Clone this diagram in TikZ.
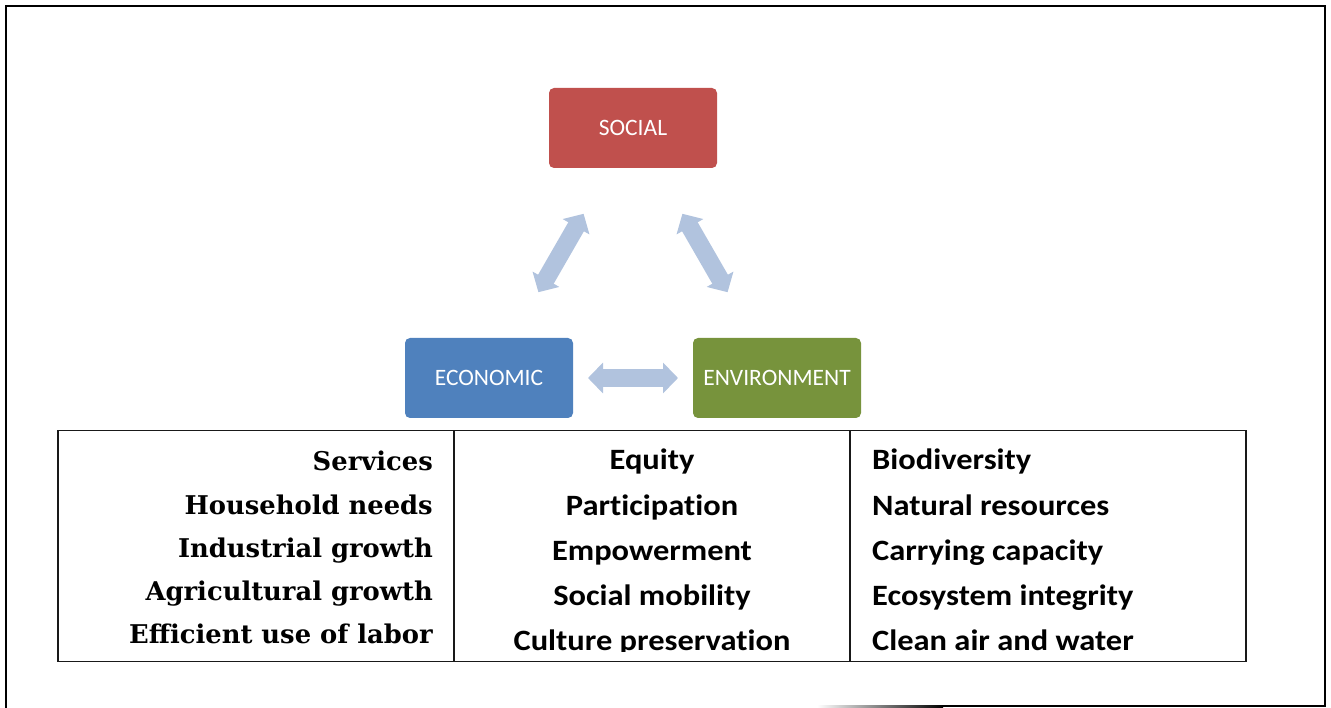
\documentclass[tikz,border=0pt]{standalone}
\usepackage{fontspec}
\setmainfont{Carlito}[Ligatures=NoCommon]
\newfontfamily\tablefont{Carlito}[FakeStretch=1.1, Ligatures=NoCommon]
\newfontfamily\serifbold{DejaVu Serif}
\usetikzlibrary{arrows.meta}
\definecolor{socred}{RGB}{192,80,77}
\definecolor{ecoblue}{RGB}{79,129,189}
\definecolor{envgreen}{RGB}{119,147,60}
\definecolor{arrowblue}{RGB}{177,195,222}
\definecolor{tablegray}{RGB}{25,25,25}
\tikzset{
  pillar/.style={rounded corners=5pt, minimum width=168pt, minimum height=80pt, inner sep=0pt,
    text=white, font=\fontsize{23.5}{28}\selectfont},
  dblarrow/.style={draw=arrowblue, line width=18pt, shorten <=99pt, shorten >=99pt,
    {Triangle[width=30pt,length=15pt]}-{Triangle[width=30pt,length=15pt]}},
  ecotext/.style={anchor=base east, inner sep=0pt, font=\serifbold\bfseries\fontsize{25.8}{30}\selectfont},
  soctext/.style={anchor=base, inner sep=0pt, font=\tablefont\bfseries\fontsize{29.5}{34}\selectfont},
  envtext/.style={anchor=base west, inner sep=0pt, font=\tablefont\bfseries\fontsize{29.5}{34}\selectfont},
  frame/.style={line width=2pt, black},
  tableline/.style={line width=1.9pt, tablegray}
}
\begin{document}
\begin{tikzpicture}[x=1pt,y=-1pt]
\useasboundingbox (0,0) rectangle (1331,708);
% outer frame with page curl
\draw[frame] (5.5,708) -- (5.5,6) -- (1325,6) -- (1325,706) -- (943,706);
\shade[left color=white, right color=black] (817,705) rectangle (943,707);
% pillars
\node[pillar, fill=socred] (soc) at (633,128) {SOCIAL};
\node[pillar, fill=ecoblue] (eco) at (489,378) {ECONOMIC};
\node[pillar, fill=envgreen] (env) at (777,378) {ENVIRONMENT};
% double arrows
\draw[dblarrow] (soc.center) -- (eco.center);
\draw[dblarrow] (soc.center) -- (env.center);
\draw[dblarrow] (eco.center) -- (env.center);
% table
\draw[tableline] (58,430.5) rectangle (1246,661.5);
\draw[tableline] (454,430.5) -- (454,661.5);
\draw[tableline] (850,430.5) -- (850,661.5);
% economic column
\node[ecotext] (e1) at (433,471) {Services};
\node[ecotext] (e2) at (433,514) {Household needs};
\node[ecotext] (e3) at (433,557) {Industrial growth};
\node[ecotext] (e4) at (433,600) {Agricultural growth};
\node[ecotext] (e5) at (433,643) {Efficient use of labor};
% social column
\begin{scope}
\clip (455,432) rectangle (849,651);
\node[soctext] (s1) at (652,470) {Equity};
\node[soctext] (s2) at (652,515) {Participation};
\node[soctext] (s3) at (652,560) {Empowerment};
\node[soctext] (s4) at (652,605) {Social mobility};
\node[soctext] (s5) at (652,650) {Culture preservation};
\end{scope}
% environment column
\node[envtext] (v1) at (872,470) {Biodiversity};
\node[envtext] (v2) at (872,515) {Natural resources};
\node[envtext] (v3) at (872,560) {Carrying capacity};
\node[envtext] (v4) at (872,605) {Ecosystem integrity};
\node[envtext] (v5) at (872,650) {Clean air and water};
\end{tikzpicture}
\end{document}
